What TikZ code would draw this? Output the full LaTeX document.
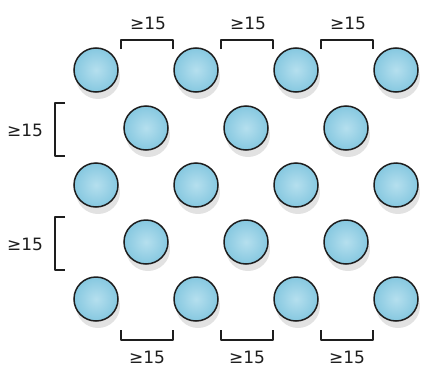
\documentclass[tikz,border=0pt]{standalone}
\usepackage{fontspec}
\setmainfont{DejaVu Sans}
\usetikzlibrary{shadows}
\definecolor{dotblue}{HTML}{86C8E0}
\definecolor{dotlight}{HTML}{B5DFEE}
\definecolor{inkc}{HTML}{1E1E1E}
\tikzset{
  dot/.style={circle, draw=inkc, line width=1.5pt, minimum size=44pt, inner sep=0pt,
    inner color=dotlight, outer color=dotblue,
    drop shadow={shadow xshift=2pt, shadow yshift=-7pt, fill=black!14, opacity=0.8}},
  brk/.style={draw=inkc, line width=1.4pt, line join=round},
  lbl/.style={font=\fontsize{17}{17}\selectfont, text=inkc, inner sep=0pt}
}
\begin{document}
\begin{tikzpicture}[x=1pt,y=-1pt]
\useasboundingbox (0,0) rectangle (427,369);
% rows
\foreach \r/\yy in {1/70,3/185,5/299}{
  \foreach \c/\xx in {1/96,2/196,3/296,4/396}{
    \node[dot] (r\r c\c) at (\xx,\yy) {};
  }
}
\foreach \r/\yy in {2/128,4/242}{
  \foreach \c/\xx in {1/146,2/246,3/346}{
    \node[dot] (r\r c\c) at (\xx,\yy) {};
  }
}
% top brackets
\foreach \i/\xa in {1/121,2/221,3/321}{
  \draw[brk] (\xa,49) -- (\xa,40) -- (\xa+52,40) -- (\xa+52,49);
  \node[lbl] (top\i) at (\xa+27,23) {≥15};
}
% bottom brackets
\foreach \i/\xa in {1/121,2/221,3/321}{
  \draw[brk] (\xa,330) -- (\xa,340) -- (\xa+52,340) -- (\xa+52,330);
  \node[lbl] (bot\i) at (\xa+26,357) {≥15};
}
% left brackets
\foreach \i/\ya in {1/103,2/217}{
  \draw[brk] (65,\ya) -- (55,\ya) -- (55,\ya+53) -- (65,\ya+53);
  \node[lbl] (left\i) at (25,\ya+27) {≥15};
}
\end{tikzpicture}
\end{document}
